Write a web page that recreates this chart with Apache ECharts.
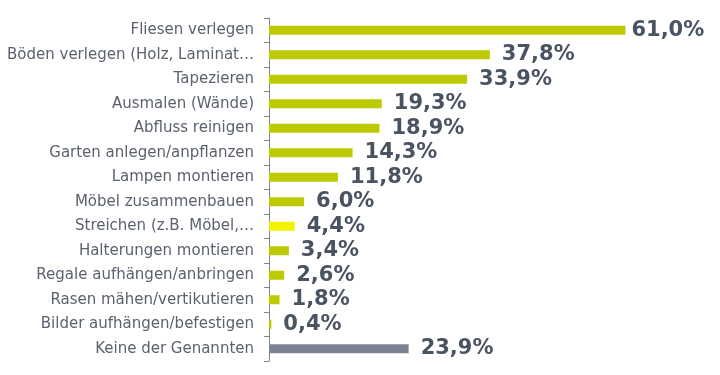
<!DOCTYPE html>
<html>
<head>
<meta charset="utf-8">
<script src="https://cdn.jsdelivr.net/npm/echarts@6/dist/echarts.min.js"></script>
<style>
  html, body { margin: 0; padding: 0; background: #fff; }
  #chart { width: 720px; height: 375px; }
</style>
</head>
<body>
<div id="chart"></div>
<script>
  // Tätigkeiten (von oben nach unten)
  var categories = [
    'Fliesen verlegen',
    'Böden verlegen (Holz, Laminat…',
    'Tapezieren',
    'Ausmalen (Wände)',
    'Abfluss reinigen',
    'Garten anlegen/anpflanzen',
    'Lampen montieren',
    'Möbel zusammenbauen',
    'Streichen (z.B. Möbel,…',
    'Halterungen montieren',
    'Regale aufhängen/anbringen',
    'Rasen mähen/vertikutieren',
    'Bilder aufhängen/befestigen',
    'Keine der Genannten'
  ]
  var values = [61.0, 37.8, 33.9, 19.3, 18.9, 14.3, 11.8, 6.0, 4.4, 3.4, 2.6, 1.8, 0.4, 23.9]

  var highlightName = 'Streichen (z.B. Möbel,…'
  var noneName = 'Keine der Genannten'

  function barColor (name) {
    if (name === noneName) return '#7b8490'
    if (name === highlightName) return '#f3f300'
    return '#bdca00'
  }

  var chart = echarts.init(document.getElementById('chart'))
  chart.setOption({
    animation: false,
    grid: {
      left: 269,
      right: 42,
      top: 18,
      bottom: 14,
      containLabel: false
    },
    xAxis: {
      type: 'value',
      min: 0,
      max: 70,
      show: false
    },
    yAxis: {
      type: 'category',
      data: categories,
      inverse: true,
      axisLine: { show: true, lineStyle: { color: '#7f848b', width: 1 } },
      axisTick: { show: true, length: 5, lineStyle: { color: '#7f848b' } },
      axisLabel: {
        margin: 15,
        color: '#5b626d',
        fontFamily: 'DejaVu Sans',
        fontSize: 15
      }
    },
    series: [{
      type: 'bar',
      data: values.map(function (v, i) {
        var item = { value: v }
        // erster Balken: Beschriftung sitzt dichter am Balken
        if (i === 0) item.label = { distance: 6 }
        return item
      }),
      barWidth: 9,
      itemStyle: {
        color: function (p) { return barColor(p.name) }
      },
      label: {
        show: true,
        position: 'right',
        distance: 12,
        color: '#4a5362',
        fontFamily: 'DejaVu Sans',
        fontWeight: 'bold',
        fontSize: 21,
        formatter: function (p) {
          return p.value.toFixed(1).replace('.', ',') + '%'
        }
      }
    }]
  })
</script>
</body>
</html>
